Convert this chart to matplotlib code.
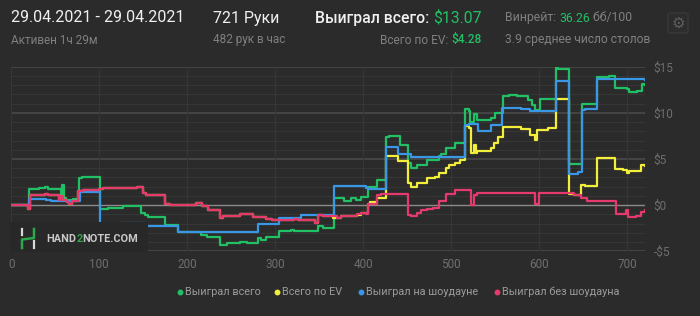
import matplotlib
matplotlib.use("Agg")
import matplotlib.pyplot as plt
from matplotlib.lines import Line2D
from matplotlib.patches import Rectangle, FancyBboxPatch
import numpy as np

plt.rcParams['font.family'] = ['Roboto', 'DejaVu Sans']

# ---------------- data ----------------
green_x = [0, 20, 32, 38, 42, 56, 58, 60, 62, 70, 77, 80, 88, 101, 110, 127, 148, 152, 156, 175, 190,
           216, 222, 237, 245, 260, 268, 281, 284, 290, 305, 318, 322, 335, 349, 355, 367, 372, 378,
           386, 392, 398, 406, 416, 426, 430, 442, 451, 454, 461, 473, 486, 489, 494, 505, 516, 520,
           522, 526, 530, 545, 550, 559, 566, 575, 588, 592, 596, 601, 612, 619, 622, 634.5, 649, 652,
           666, 680, 687, 700, 702, 712, 717, 721]
green_y = [0.0, 1.8, 1.9, 2.0, 1.7, 0.95, 2.2, 0.8, 0.55, 0.7, 2.9, 3.0, 3.1, -0.4, -0.3, -0.1, -0.85,
           -1.1, -1.3, -2.1, -2.95, -3.2, -3.4, -4.3, -4.15, -4.0, -4.1, -3.6, -3.8, -3.5, -2.85, -2.7,
           -2.85, -2.8, -2.3, -2.5, 0.8, 0.75, 0.5, 0.75, 0.6, 0.9, 2.0, 2.75, 7.35, 7.5, 6.5, 4.55, 4.0,
           4.35, 4.9, 5.3, 5.5, 6.2, 6.7, 10.4, 10.2, 9.05, 9.9, 9.25, 9.45, 10.0, 11.8, 11.95, 11.8,
           11.4, 10.9, 10.3, 11.45, 11.55, 14.85, 14.7, 4.45, 10.95, 11.0, 13.85, 13.95, 12.65, 12.6,
           12.25, 12.4, 13.1, 13.07]

blue_x = [0, 20, 40, 45, 78, 101, 125, 152, 190, 281, 305, 330, 367, 403, 406, 426, 440, 454, 516,
          520, 531, 545, 558, 580, 590, 619, 634.5, 644, 649, 652, 666, 721]
blue_y = [0.0, 0.65, 0.6, 0.5, 1.4, -2.0, -1.9, -2.3, -2.95, -2.0, -1.4, -1.05, 2.1, 1.9, 1.75, 6.35,
          5.5, 5.2, 8.7, 8.8, 8.0, 8.7, 10.5, 10.4, 10.2, 13.5, 3.4, 3.6, 10.3, 10.4, 13.65, 13.6]

pink_x = [0, 19, 21, 38, 42, 54, 57, 59, 63, 66, 69, 76, 82, 100, 104, 143, 150, 153, 175, 180, 210,
          217, 224, 237, 241, 260, 275, 290, 296, 322, 326, 345, 349, 355, 370, 375, 385, 393, 398,
          403, 406, 416, 420, 451, 455, 461, 466, 473, 480, 486, 494, 505, 523, 526, 530, 545, 596,
          600, 612, 640, 648, 655, 666, 688, 699, 701, 710, 716, 721]
pink_y = [0.0, -0.45, 1.05, 1.2, 1.05, 0.6, 1.0, 0.6, 0.3, 0.15, 0.4, 1.5, 1.6, 1.75, 1.85, 1.95, 1.3,
          1.05, 0.15, 0.05, 0.2, -0.1, -0.5, -1.4, -1.15, -1.0, -1.25, -1.5, -1.6, -1.45, -1.65, -1.95,
          -1.1, -1.2, -1.35, -1.2, -1.2, -1.0, -0.85, -1.0, 0.15, 1.1, 1.2, -1.05, -1.2, -0.85, -0.5,
          -0.4, -0.3, 0.4, 1.2, 1.65, 0.05, 1.1, 1.3, 1.35, 0.15, 1.35, 1.3, 1.15, 0.75, 0.5, 0.4,
          -1.0, -0.55, -1.3, -1.2, -0.7, -0.55]

yellow_x = [0, 19, 21, 38, 42, 54, 57, 59, 63, 66, 69, 76, 82, 100, 104, 143, 150, 153, 175, 180, 210,
            217, 224, 237, 241, 260, 275, 290, 296, 322, 326, 345, 349, 355, 366, 375, 385, 393, 398,
            406, 408, 416, 426, 440, 451, 454, 461, 473, 482, 486, 494, 498, 505, 510, 516, 521, 523,
            526, 528, 530, 545, 549, 553, 559, 580, 590, 596, 598, 610, 619, 633.7, 640, 648, 652, 666,
            686, 696, 700, 702, 712, 716, 721]
yellow_y = [0.0, -0.45, 1.05, 1.2, 1.05, 0.6, 1.0, 0.6, 0.3, 0.15, 0.4, 1.5, 1.6, 1.75, 1.85, 1.95,
            1.3, 1.05, 0.15, 0.05, 0.2, -0.1, -0.5, -1.4, -1.15, -1.0, -1.25, -1.5, -1.6, -1.45, -1.65,
            -1.95, -1.1, -1.2, -1.4, -1.2, -1.2, -1.05, -0.9, 0.15, 0.3, 0.75, 5.35, 4.75, 2.4, 2.0,
            2.4, 2.9, 3.1, 3.45, 4.0, 4.35, 4.6, 4.9, 8.6, 8.4, 5.6, 6.5, 5.7, 5.9, 6.2, 6.7, 7.35,
            8.45, 8.3, 7.6, 7.05, 8.15, 8.4, 11.5, 1.25, 1.1, 2.2, 2.05, 5.15, 3.9, 3.8, 3.5, 3.65,
            3.75, 4.3, 4.28]

series_names = ["Выиграл всего", "Всего по EV", "Выиграл на шоудауне", "Выиграл без шоудауна"]
x_ticks = [0, 100, 200, 300, 400, 500, 600, 700]
y_ticks = [-5, 0, 5, 10, 15]
y_tick_labels = ["-$5", "$0", "$5", "$10", "$15"]

# ---------------- style ----------------
BG = '#2b2b2b'
GREEN = '#22c065'
YELLOW = '#f2ee3a'
BLUE = '#3a97e6'
PINK = '#e63a6e'
GRAY = '#808080'
LIGHT = '#9c9c9c'

fig = plt.figure(figsize=(7, 3.16), dpi=100, facecolor=BG)
W, H = 700, 316

def fx(px):
    return px / W

def fy(py):
    return 1 - py / H

ax = fig.add_axes([fx(11.3), fy(251.3), fx(645.3 - 11.3), fy(66.7) - fy(251.3)])
ax.set_facecolor(BG)
ax.set_xlim(0, 721)
ax.set_ylim(-5, 15)
for s in ax.spines.values():
    s.set_visible(False)

# grid
for v in range(-5, 16):
    if v == 0:
        continue
    if v % 5 == 0:
        ax.axhline(v, color='#474747', lw=1.3, zorder=1)
    else:
        ax.axhline(v, color='#363636', lw=0.8, zorder=1)
for xv in x_ticks:
    ax.axvline(xv, color='#363636', lw=0.8, zorder=1)
ax.axhline(0, color='#8a8a8a', lw=1.0, zorder=1.5)

# watermark box
wm = Rectangle((fx(10), fy(252)), fx(148) - fx(10), fy(222) - fy(252), transform=fig.transFigure,
               facecolor='#282828', edgecolor='none', zorder=0.5)
fig.patches.append(wm)

# series
ax.plot(green_x, green_y, drawstyle='steps-post', color=GREEN, lw=1.6, zorder=3)
ax.plot(yellow_x, yellow_y, drawstyle='steps-post', color=YELLOW, lw=1.6, zorder=3.1)
ax.plot(blue_x, blue_y, drawstyle='steps-post', color=BLUE, lw=1.6, zorder=3.2)
ax.plot(pink_x, pink_y, drawstyle='steps-post', color=PINK, lw=1.6, zorder=3.3)

# ticks
ax.set_xticks(x_ticks)
ax.set_xticklabels([str(t) for t in x_ticks])
ax.yaxis.tick_right()
ax.set_yticks(y_ticks)
ax.set_yticklabels(y_tick_labels)
ax.tick_params(axis='both', length=0, labelcolor='#6e6e6e', labelsize=8.5)
ax.tick_params(axis='x', pad=5)
ax.tick_params(axis='y', pad=6)

# watermark logo & text
for xs, ys in [([21.5, 21.5], [229, 235]), ([34, 34], [241, 248])]:
    fig.add_artist(Line2D([fx(v) for v in xs], [fy(v) for v in ys], color='#d8d8d8', lw=1.6, zorder=5))
fig.add_artist(Line2D([fx(34), fx(34), fx(22), fx(22)], [fy(229), fy(238), fy(239.5), fy(248)],
                      color='#2aa84a', lw=1.8, zorder=5))
fig.canvas.draw()
r = fig.canvas.get_renderer()
t1 = fig.text(fx(46.5), fy(238.5), "HAND", color='#c8c8c8', fontsize=7.8, fontweight='bold', va='center', ha='left', zorder=5)
bb = t1.get_window_extent(r)
t2 = fig.text(bb.x1 / W, fy(238.5), "2", color='#2aa84a', fontsize=7.8, fontweight='bold', va='center', ha='left', zorder=5)
bb2 = t2.get_window_extent(r)
fig.text(bb2.x1 / W, fy(238.5), "NOTE.COM", color='#c8c8c8', fontsize=7.8, fontweight='bold', va='center', ha='left', zorder=5)

# header
def seq_text(x, y, parts, ha='left'):
    artists = []
    cur = x * W
    for txt, col, size, wt in parts:
        t = fig.text(cur / W, y, txt, color=col, fontsize=size, fontweight=wt, va='center', ha='left')
        cur = t.get_window_extent(fig.canvas.get_renderer()).x1
        artists.append(t)
    if ha == 'right':
        shift = cur - x * W
        for t in artists:
            px, py = t.get_position()
            t.set_position((px - shift / W, py))
    return artists

fig.text(fx(11), fy(18), "29.04.2021 - 29.04.2021", color='#f0f0f0', fontsize=11.5, va='center', ha='left')
fig.text(fx(11), fy(40), "Активен 1ч 29м", color=GRAY, fontsize=8.5, va='center', ha='left')
fig.text(fx(213), fy(18), "721 Руки", color='#f0f0f0', fontsize=11.4, va='center', ha='left')
fig.text(fx(213), fy(40), "482 рук в час", color=GRAY, fontsize=8.5, va='center', ha='left')
seq_text(fx(482), fy(18), [("Выиграл всего: ", '#f0f0f0', 11.3, 'medium'), ("$13.07", GREEN, 11.3, 'normal')], ha='right')
seq_text(fx(482), fy(40), [("Всего по EV: ", GRAY, 8.6, 'normal'), ("$4.28", GREEN, 8.6, 'medium')], ha='right')
seq_text(fx(505), fy(18), [("Винрейт: ", GRAY, 8.8, 'normal'), ("36.26", GREEN, 8.8, 'normal'), (" бб/100", GRAY, 8.8, 'normal')])
fig.text(fx(505), fy(40), "3.9 среднее число столов", color=GRAY, fontsize=8.7, va='center', ha='left')

# gear button
fig.patches.append(FancyBboxPatch((fx(668), fy(33)), fx(20), fy(13) - fy(33),
                                  boxstyle="round,pad=0,rounding_size=0.004", transform=fig.transFigure,
                                  facecolor='#2d2d2d', edgecolor='#3c3c3c', lw=0.8))
fig.text(fx(678), fy(23), "\u2699", color='#5e5e5e', fontsize=11, va='center', ha='center',
         family=['DejaVu Sans'])

# legend
leg_items = [(180, series_names[0], GREEN), (277, series_names[1], YELLOW),
             (361, series_names[2], BLUE), (497, series_names[3], PINK)]
for px, name, col in leg_items:
    fig.add_artist(Line2D([fx(px)], [fy(292)], marker='o', markersize=3.2, color=col, lw=0))
    fig.text(fx(px + 5), fy(292), name, color=LIGHT, fontsize=7.8, va='center', ha='left')

fig.savefig("out.png", dpi=100, facecolor=BG)
